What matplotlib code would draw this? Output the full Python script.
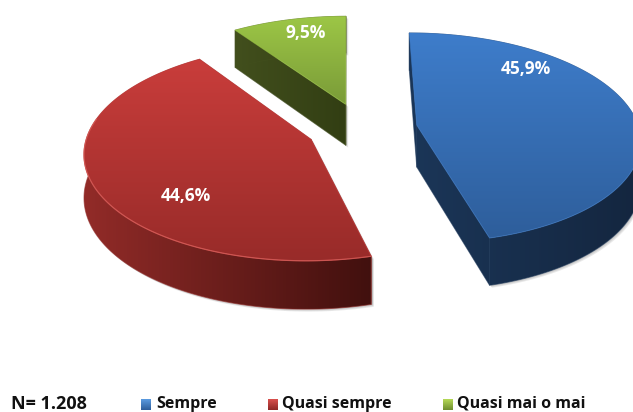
"""Exploded 3D pie, drawn by hand because matplotlib has no perspective pie."""
import numpy as np
import matplotlib
matplotlib.use("Agg")
import matplotlib.pyplot as plt
from matplotlib.colors import LinearSegmentedColormap
from matplotlib.patches import Polygon

categories = ["Sempre", "Quasi sempre", "Quasi mai o mai"]
shares = [45.9, 44.6, 9.5]
note = "N= 1.208"

# top face gradient (far, near), side gradient (left, right)
top_colors = [("#3E7DCB", "#2E5E9B"), ("#C93D3B", "#982B29"), ("#9DC746", "#7A9B38")]
side_colors = [("#1B3658", "#14263F"), ("#922B28", "#41100E"), ("#424F1D", "#323E13")]
rim_colors = [None, "#D8605C", None]
legend_colors = [("#5B9BE0", "#2E5E9B"), ("#D9504D", "#8E2725"), ("#B5D957", "#6F8E30")]
label_pos = [(526, 69), (186, 196), (306, 33)]

# projection of the pie disc, in image pixels
RX, RY = 222, 104
CX, CY = 362, 128.5
VX = 347       # x of the vanishing point
PERSP = 0.12
EXPLODE = 0.25
DEPTH = 42

W, H = 633, 412


def project(x, y, z=0.0):
    s = 1 / (1 + PERSP * y)
    return VX + (CX - VX + x * RX) * s, CY - y * RY * s + z * DEPTH * s


def grad_fill(ax, verts, colors, horizontal=False, extent=None):
    verts = np.asarray(verts)
    if extent is None:
        extent = (verts[:, 0].min(), verts[:, 0].max(), verts[:, 1].max(), verts[:, 1].min())
    cmap = LinearSegmentedColormap.from_list("g", colors)
    ramp = np.linspace(0, 1, 256)
    ramp = ramp[None, :] if horizontal else ramp[:, None]
    im = ax.imshow(ramp, cmap=cmap, extent=extent, aspect="auto", origin="upper", zorder=3,
                   interpolation="bilinear")
    im.set_clip_path(Polygon(verts, closed=True, transform=ax.transData))
    # soften the hard clip edge
    ax.add_patch(Polygon(verts, closed=True, fill=False, lw=0.7, zorder=3,
                         edgecolor=colors[len(colors) // 2 - 1], alpha=0.6, joinstyle="round"))


def draw_slice(ax, start, end, top, side, rim):
    mid = (start + end) / 2
    ox, oy = EXPLODE * np.sin(mid), EXPLODE * np.cos(mid)
    t = np.linspace(start, end, 160)
    ux, uy = ox + np.sin(t), oy + np.cos(t)

    top_x, top_y = project(ux, uy)
    bot_x, bot_y = project(ux, uy, 1)
    ax_x, ax_y = project(ox, oy)
    bx_x, bx_y = project(ox, oy, 1)

    # soft grey shadow under the extruded body
    outline = np.r_[np.c_[top_x, top_y], np.c_[bot_x, bot_y][::-1]]
    cut1 = [(ax_x, ax_y), (top_x[0], top_y[0]), (bot_x[0], bot_y[0]), (bx_x, bx_y)]
    cut2 = [(ax_x, ax_y), (top_x[-1], top_y[-1]), (bot_x[-1], bot_y[-1]), (bx_x, bx_y)]
    for off in (3, 2, 1):
        for poly in (outline, cut1, cut2):
            ax.add_patch(Polygon(np.asarray(poly) + off * 0.8, closed=True, facecolor="#555555",
                                 edgecolor="none", alpha=0.13, zorder=2))

    xmin, xmax = top_x.min(), top_x.max()
    ext = (min(xmin, ax_x), max(xmax, ax_x), max(bot_y.max(), bx_y), min(top_y.min(), ax_y))
    grad_fill(ax, cut1, side, horizontal=True, extent=ext)
    grad_fill(ax, cut2, side, horizontal=True, extent=ext)
    grad_fill(ax, outline, side, horizontal=True, extent=ext)

    face = np.r_[[(ax_x, ax_y)], np.c_[top_x, top_y]]
    grad_fill(ax, face, top)

    if rim:
        near = uy - oy < 0.2
        ax.plot(top_x[near], top_y[near], color=rim, lw=0.9, alpha=0.7, zorder=4)


fig = plt.figure(figsize=(W / 100, H / 100), dpi=100)
ax = fig.add_axes([0, 0, 1, 1])

angles = np.r_[0, np.cumsum(shares)] / sum(shares) * 2 * np.pi
# far slice first so nearer ones paint over it
for i in (2, 1, 0):
    draw_slice(ax, angles[i], angles[i + 1], top_colors[i], side_colors[i], rim_colors[i])

for value, (x, y) in zip(shares, label_pos):
    ax.text(x, y, f"{value:.1f}".replace(".", ",") + "%", color="white", fontsize=12.5,
            fontweight="bold", family="Open Sans", ha="center", va="center", zorder=5)

ax.text(11, 404, note, fontsize=13, fontweight="bold", family="Open Sans", va="center",
        color="#111111", zorder=5)

legend_x = [(141, 156), (268, 282), (443, 457)]
for name, cols, (mx, tx) in zip(categories, legend_colors, legend_x):
    ramp = np.linspace(0, 1, 32)[:, None]
    ax.imshow(ramp, cmap=LinearSegmentedColormap.from_list("m", cols),
              extent=(mx, mx + 10, 410, 399), aspect="auto", zorder=4)
    ax.text(tx, 404, name, fontsize=11.5, fontweight="bold", family="Open Sans", va="center",
            color="#111111", zorder=5)

ax.set_xlim(0, W)
ax.set_ylim(H, 0)
ax.axis("off")
fig.savefig("out.png", dpi=100, facecolor="white")
